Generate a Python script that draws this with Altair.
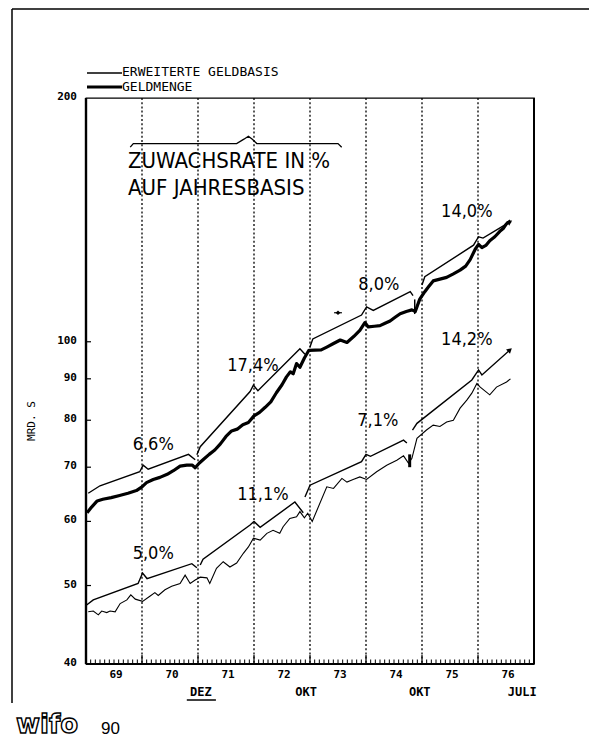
import altair as alt
import pandas as pd

MONO = "DejaVu Sans Mono"
COND = "DejaVu Sans Condensed, Roboto, Liberation Sans Narrow, sans-serif"

# ---------------- data ----------------
# Geldmenge (thick line), year as decimal, value in Mrd. S
gm_year = [69.02, 69.1, 69.2, 69.3, 69.45, 69.6, 69.75, 69.9, 70.0, 70.08, 70.2, 70.32, 70.45, 70.56,
           70.68, 70.8, 70.9, 70.95, 71.02, 71.1, 71.2, 71.3, 71.4, 71.5, 71.6, 71.7, 71.8, 71.9,
           72.0, 72.1, 72.2, 72.3, 72.4, 72.5, 72.58, 72.65, 72.7, 72.76, 72.82, 72.9, 72.98,
           73.2, 73.3, 73.42, 73.54, 73.66, 73.78, 73.89, 73.98, 74.04, 74.15, 74.25, 74.35,
           74.43, 74.52, 74.61, 74.72, 74.82, 74.88, 74.96, 75.05, 75.12, 75.2, 75.32, 75.44,
           75.56, 75.68, 75.78, 75.86, 75.95, 76.01, 76.07, 76.14, 76.21, 76.3, 76.39, 76.45,
           76.51, 76.58]
gm_val = [61.5, 62.5, 63.6, 63.9, 64.2, 64.6, 65.0, 65.5, 66.2, 67.0, 67.6, 68.0, 68.6, 69.3,
          70.2, 70.4, 70.4, 69.9, 70.8, 71.6, 72.6, 73.5, 74.8, 76.4, 77.6, 78.0, 79.0, 79.5,
          81.0, 81.8, 83.0, 84.3, 86.5, 88.5, 90.5, 91.8, 91.3, 94.0, 93.0, 95.5, 97.6,
          97.7, 98.5, 99.5, 100.5, 99.8, 101.5, 103.3, 105.6, 104.3, 104.5, 104.7, 105.5,
          106.1, 107.2, 108.3, 109.0, 109.5, 109.0, 112.9, 115.3, 117.0, 118.9, 119.5, 120.1,
          121.3, 122.6, 124.0, 126.3, 130.1, 131.9, 130.7, 131.5, 133.3, 134.8, 136.9, 138.0,
          139.9, 141.0]

# Erweiterte Geldbasis (thin line)
egb_year = [69.04, 69.13, 69.22, 69.28, 69.37, 69.43, 69.52, 69.61, 69.73, 69.8, 69.88, 70.01,
            70.14, 70.23, 70.29, 70.41, 70.53, 70.68, 70.77, 70.86, 70.95, 71.04, 71.16, 71.21,
            71.33, 71.45, 71.57, 71.69, 71.81, 71.9, 71.99, 72.11, 72.23, 72.34, 72.46, 72.52,
            72.64, 72.76, 72.82, 72.9, 72.96, 73.04, 73.3, 73.42, 73.57, 73.66, 73.77, 73.89,
            74.01, 74.19, 74.37, 74.55, 74.67, 74.76, 74.82, 74.91, 75.08, 75.2, 75.32, 75.44,
            75.56, 75.68, 75.8, 75.89, 75.98, 76.04, 76.21, 76.33, 76.51, 76.58]
egb_val = [46.4, 46.5, 46.0, 46.5, 46.3, 46.5, 46.4, 47.5, 48.0, 48.7, 48.1, 47.8,
           48.5, 49.0, 48.6, 49.4, 49.9, 50.3, 51.5, 50.3, 50.8, 51.2, 51.1, 50.3,
           52.5, 53.5, 52.7, 53.3, 54.8, 55.8, 57.2, 56.9, 58.0, 58.5, 58.0, 59.1,
           60.5, 60.8, 61.7, 60.6, 61.4, 60.0, 66.2, 65.9, 67.8, 67.1, 67.6, 68.1,
           67.6, 69.1, 70.4, 71.4, 72.3, 70.8, 71.8, 76.0, 77.8, 78.9, 78.6, 79.6,
           80.0, 82.8, 84.7, 86.4, 88.8, 87.9, 86.0, 87.9, 89.2, 90.0]

# trend segments (Geldmenge, upper)
tg1_year = [69.04, 69.25, 69.96, 70.02, 70.11, 70.83, 70.95]
tg1_val = [65.0, 66.4, 69.1, 70.4, 69.6, 72.6, 71.5]
tg2_year = [70.98, 71.04, 71.93, 71.99, 72.07, 72.82, 72.91]
tg2_val = [72.5, 74.2, 86.8, 88.4, 87.0, 98.0, 96.5]
tg3_year = [73.0, 73.05, 73.92, 74.01, 74.13, 74.79, 74.84]
tg3_val = [98.5, 100.8, 107.9, 110.4, 109.3, 115.3, 114.0]
tg4_year = [75.0, 75.05, 75.92, 76.01, 76.09, 76.57]
tg4_val = [117.5, 120.3, 131.6, 134.8, 134.3, 140.6]
# trend segments (Erweiterte Geldbasis, lower)
tl1_year = [69.01, 69.13, 69.93, 70.01, 70.09, 70.89, 70.98]
tl1_val = [47.3, 48.0, 50.3, 51.8, 51.0, 53.2, 52.6]
tl2_year = [71.04, 71.09, 71.93, 72.0, 72.11, 72.73, 72.88]
tl2_val = [53.0, 53.9, 59.4, 60.0, 59.0, 63.4, 61.5]
tl3_year = [72.91, 73.0, 73.92, 74.0, 74.08, 74.67, 74.73]
tl3_val = [64.3, 66.5, 71.1, 72.6, 72.2, 75.6, 75.0]
tl4_year = [74.83, 74.91, 75.89, 76.01, 76.07, 76.57]
tl4_val = [77.8, 79.3, 89.7, 92.3, 91.0, 97.7]

# short break marks at October 1974 and the small pointer mark in 1973
brk_year = [74.87, 74.78]
brk_lo = [108.2, 70.0]
brk_hi = [112.8, 72.6]
brk_w = [1.5, 3.0]
ptr_year = [73.43, 73.57]
ptr_val = [108.6]

# growth-rate labels
rate_text = ["6,6%", "17,4%", "8,0%", "14,0%", "5,0%", "11,1%", "7,1%", "14,2%"]
rate_year = [70.2, 71.98, 74.23, 75.8, 70.2, 72.16, 74.21, 75.8]
rate_val = [74.6, 93.3, 117.5, 144.6, 54.7, 64.7, 79.8, 100.5]

# arrow heads at the end of the last trends
arrow_year = [76.57, 76.57]
arrow_val = [140.6, 97.7]
arrow_angle = [329, 318]

# brace above the note
brace_year = [69.79, 69.845, 71.69, 71.82, 71.90, 71.97, 72.05, 73.5, 73.566]
brace_val = [173.9, 175.7, 175.7, 177.9, 179.4, 177.9, 175.7, 175.7, 173.9]
note_lines = ["ZUWACHSRATE IN %", "AUF JAHRESBASIS"]
note_year = [69.75, 69.75]
note_val = [167.1, 154.8]

# axes
year_mid = [69.5, 70.5, 71.5, 72.5, 73.5, 74.5, 75.5, 76.5]
year_lab = ["69", "70", "71", "72", "73", "74", "75", "76"]
year_bounds = [70, 71, 72, 73, 74, 75, 76]
ytick_vals = [40, 50, 60, 70, 80, 90, 100, 200]
ytick_lab = ["40", "50", "60", "70", "80", "90", "100", "200"]
yinner_ticks = [50, 60, 70, 80, 90, 100]
sub_text = ["DEZ", "OKT", "OKT", "JULI"]
sub_year = [71.05, 72.93, 74.96, 76.79]
dez_underline = [70.8, 71.32]
month_ticks = [69 + i / 12 for i in range(1, 96) if i % 12 != 0]

# ---------------- scales ----------------
xs = alt.Scale(domain=[69, 77], nice=False, zero=False)
ys = alt.Scale(type="log", domain=[40, 200], nice=False)


def X(f):
    return alt.X(f"{f}:Q", scale=xs, axis=None)


def Y(f):
    return alt.Y(f"{f}:Q", scale=ys, axis=None)


one = pd.DataFrame({"a": [0]})

gm_df = pd.DataFrame({"year": gm_year, "value": gm_val})
egb_df = pd.DataFrame({"year": egb_year, "value": egb_val})

thick = alt.Chart(gm_df).mark_line(color="black", strokeWidth=3.2, strokeJoin="round").encode(
    x=X("year"), y=Y("value"))
thin = alt.Chart(egb_df).mark_line(color="black", strokeWidth=1.1).encode(x=X("year"), y=Y("value"))

# axis lines, ticks and labels
left_dom = alt.Chart(one).mark_rule(color="black", strokeWidth=2.4).encode(
    x=alt.value(0), y=alt.value(0), y2=alt.value(566))
bot_dom = alt.Chart(one).mark_rule(color="black", strokeWidth=2).encode(
    x=alt.value(0), x2=alt.value(448), y=alt.value(566))
right_dom = alt.Chart(one).mark_rule(color="black", strokeWidth=2).encode(
    x=alt.value(448), y=alt.value(0), y2=alt.value(566))

ylabels = alt.Chart(pd.DataFrame({"value": ytick_vals, "t": ytick_lab})).mark_text(
    font=MONO, fontSize=11, fontWeight="bold", color="black", align="right", baseline="middle", dy=-1).encode(
    x=alt.value(-9), y=Y("value"), text="t:N")
xlabels = alt.Chart(pd.DataFrame({"year": year_mid, "t": year_lab})).mark_text(
    font=MONO, fontSize=11, fontWeight="bold", color="black", align="center", baseline="middle", dx=2).encode(
    x=X("year"), y=alt.value(577), text="t:N")
ytitle = alt.Chart(one).mark_text(font=MONO, fontSize=11, color="black", align="center",
                                  baseline="middle", angle=270, text="MRD. S").encode(
    x=alt.value(-54), y=alt.value(323))

# dotted year boundaries
dotted = alt.Chart(pd.DataFrame({"year": year_bounds})).mark_rule(
    color="black", strokeDash=[2, 2.2], strokeWidth=1.3).encode(
    x=X("year"), y=alt.value(0), y2=alt.value(566))

mticks = alt.Chart(pd.DataFrame({"year": month_ticks})).mark_rule(
    color="black", strokeWidth=1).encode(x=X("year"), y=alt.value(566), y2=alt.value(561.5))
yticks = alt.Chart(pd.DataFrame({"year": year_bounds})).mark_rule(
    color="black", strokeWidth=1.2).encode(x=X("year"), y=alt.value(566), y2=alt.value(557))
ytin = alt.Chart(pd.DataFrame({"value": yinner_ticks})).mark_rule(
    color="black", strokeWidth=1.2).encode(y=Y("value"), x=alt.value(0), x2=alt.value(5))

segs = [("g1", tg1_year, tg1_val), ("g2", tg2_year, tg2_val), ("g3", tg3_year, tg3_val),
        ("g4", tg4_year, tg4_val), ("l1", tl1_year, tl1_val), ("l2", tl2_year, tl2_val),
        ("l3", tl3_year, tl3_val), ("l4", tl4_year, tl4_val)]
trend_rows = []
for name, yrs, vals in segs:
    for i, (a, b) in enumerate(zip(yrs, vals)):
        trend_rows.append({"seg": name, "i": i, "year": a, "value": b})
trend_df = pd.DataFrame(trend_rows)
trends = alt.Chart(trend_df).mark_line(color="black", strokeWidth=1.4).encode(
    x=X("year"), y=Y("value"), detail="seg:N", order="i:Q")

breaks = alt.Chart(pd.DataFrame({"year": brk_year, "lo": brk_lo, "hi": brk_hi, "w": brk_w})).mark_rule(
    color="black").encode(x=X("year"), y=Y("lo"), y2="hi:Q",
                          strokeWidth=alt.StrokeWidth("w:Q", scale=None))
pointer = alt.Chart(pd.DataFrame({"year": [ptr_year[0]], "year2": [ptr_year[1]], "value": ptr_val})).mark_rule(
    color="black", strokeWidth=1.2).encode(x=X("year"), x2="year2:Q", y=Y("value"))
pointer_dot = alt.Chart(pd.DataFrame({"year": [(ptr_year[0] + ptr_year[1]) / 2], "value": ptr_val})).mark_point(
    shape="diamond", filled=True, color="black", size=22, opacity=1).encode(x=X("year"), y=Y("value"))

arrows = alt.Chart(pd.DataFrame({"year": arrow_year, "value": arrow_val, "ang": arrow_angle})).mark_point(
    shape="triangle-right", filled=True, color="black", size=35, opacity=1).encode(
    x=X("year"), y=Y("value"), angle=alt.Angle("ang:Q", scale=None))

rates = alt.Chart(pd.DataFrame({"year": rate_year, "value": rate_val, "t": rate_text})).mark_text(
    font=COND, fontSize=18, color="black", align="center", baseline="middle").encode(
    x=X("year"), y=Y("value"), text="t:N")

brace = alt.Chart(pd.DataFrame({"year": brace_year, "value": brace_val, "i": list(range(len(brace_year)))})).mark_line(
    color="black", strokeWidth=1.3).encode(x=X("year"), y=Y("value"), order="i:Q")
note = alt.Chart(pd.DataFrame({"year": note_year, "value": note_val, "t": note_lines})).mark_text(
    font=COND, fontSize=22, color="black", align="left", baseline="middle").encode(
    x=X("year"), y=Y("value"), text="t:N")

subs = alt.Chart(pd.DataFrame({"year": sub_year, "t": sub_text})).mark_text(
    font=MONO, fontSize=12, fontWeight="bold", color="black", align="center", baseline="middle").encode(
    x=X("year"), y=alt.value(594), text="t:N")
underline = alt.Chart(pd.DataFrame({"year": [dez_underline[0]], "year2": [dez_underline[1]]})).mark_rule(
    color="black", strokeWidth=1.5).encode(x=X("year"), x2="year2:Q", y=alt.value(602))

# legend (above the plot)
leg_thin = alt.Chart(one).mark_rule(color="black", strokeWidth=1.3).encode(
    x=alt.value(1), x2=alt.value(36), y=alt.value(-25))
leg_thick = alt.Chart(one).mark_rule(color="black", strokeWidth=3).encode(
    x=alt.value(1), x2=alt.value(36), y=alt.value(-11))
leg_t1 = alt.Chart(one).mark_text(font=MONO, fontSize=13, color="black", align="left",
                                  baseline="middle", text="ERWEITERTE GELDBASIS").encode(
    x=alt.value(36), y=alt.value(-26))
leg_t2 = alt.Chart(one).mark_text(font=MONO, fontSize=13, color="black", align="left",
                                  baseline="middle", text="GELDMENGE").encode(
    x=alt.value(36), y=alt.value(-11.5))

# frame and logo
frame_top = alt.Chart(one).mark_rule(color="black", strokeWidth=1.5).encode(
    x=alt.value(-74), x2=alt.value(503), y=alt.value(-89))
frame_left = alt.Chart(one).mark_rule(color="black", strokeWidth=1.5).encode(
    x=alt.value(-74), y=alt.value(-89), y2=alt.value(605))
logo = alt.Chart(one).mark_text(font="DejaVu Sans", fontSize=26, fontWeight="bold", fill="white",
                                stroke="black", strokeWidth=1.4, align="left", baseline="alphabetic",
                                text="wifo").encode(x=alt.value(-70), y=alt.value(635))
logo_num = alt.Chart(one).mark_text(font="Liberation Sans", fontSize=17, color="black", align="left",
                                    baseline="alphabetic", text="90").encode(x=alt.value(15), y=alt.value(636))

chart = alt.layer(
    thick, dotted, mticks, yticks, ytin, left_dom, bot_dom, right_dom, ylabels, xlabels, ytitle,
    thin, trends, breaks, pointer, pointer_dot, arrows, rates, brace, note, subs, underline,
    leg_thin, leg_thick, leg_t1, leg_t2, frame_top, frame_left, logo, logo_num
).properties(
    width=448, height=566,
    padding={"left": 78, "top": 90, "right": 55, "bottom": 77},
    autosize=alt.AutoSizeParams(type="none"),
    background="white"
).configure_view(stroke="black", strokeWidth=1.3)

chart.save("out.html", embed_options={"renderer": "svg", "actions": False})
